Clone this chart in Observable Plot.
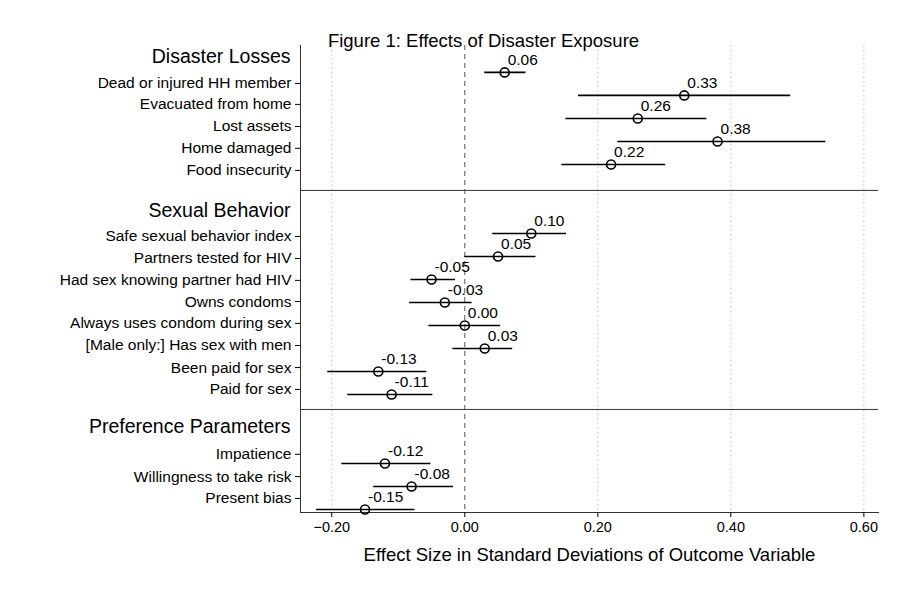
<!DOCTYPE html>
<html><head><meta charset="utf-8">
<script src="https://cdn.jsdelivr.net/npm/d3@7"></script>
<script src="https://cdn.jsdelivr.net/npm/@observablehq/plot@0.6"></script>
<style>body{margin:0;background:#fff;font-family:"Liberation Sans",Arial,sans-serif}</style>
</head><body><div id="chart"></div>
<script>
const labels = ["Dead or injured HH member","Evacuated from home","Lost assets","Home damaged","Food insecurity",
  "Safe sexual behavior index","Partners tested for HIV","Had sex knowing partner had HIV","Owns condoms",
  "Always uses condom during sex","[Male only:] Has sex with men","Been paid for sex","Paid for sex",
  "Impatience","Willingness to take risk","Present bias"]
const rows = [0,1,2,3,4, 7,8,9,10,11,12,13,14, 17,18,19]
const labelRows = [0.48,1.39,2.35,3.30,4.26, 7.13,8.09,9.04,9.96,10.91,11.87,12.83,13.78, 16.6,17.57,18.52]
const est = [0.06,0.33,0.26,0.38,0.22, 0.10,0.05,-0.05,-0.03,0.00,0.03,-0.13,-0.11, -0.12,-0.08,-0.15]
const lo = [0.030,0.171,0.152,0.230,0.146, 0.042,0.000,-0.081,-0.083,-0.054,-0.018,-0.206,-0.176, -0.185,-0.137,-0.223]
const hi = [0.092,0.490,0.364,0.543,0.302, 0.153,0.107,-0.014,0.011,0.054,0.072,-0.057,-0.048, -0.051,-0.017,-0.075]
const headers = ["Disaster Losses","Sexual Behavior","Preference Parameters"]
const headerRows = [-0.7,6.0,15.4]
const separators = [5.13,14.65]
const xTicks = [-0.2,0,0.2,0.4,0.6]

const data = labels.map((l,i)=>({label:l,row:rows[i],est:est[i],lo:lo[i],hi:hi[i]}))
const hdr = headers.map((h,i)=>({h,row:headerRows[i]}))

const chart = Plot.plot({
  width: 900, height: 600,
  marginLeft: 300, marginRight: 22, marginTop: 45, marginBottom: 88,
  style: {fontFamily: "Liberation Sans, Arial, sans-serif", fontSize: "15px", color: "#000"},
  x: {domain: [-0.247, 0.622], label: null},
  y: {domain: [-1.17, 19.13], reverse: true, label: null},
  marks: [
    Plot.ruleX([-0.2,0.2,0.4,0.6], {stroke: "#bbb", strokeDasharray: "1.5,3", strokeWidth: 1}),
    Plot.ruleX([0], {stroke: "#555", strokeDasharray: "5,4", strokeWidth: 1}),
    Plot.ruleY(separators, {stroke: "#333", strokeWidth: 1}),
    Plot.frame({anchor: "left", stroke: "#333"}),
    Plot.frame({anchor: "bottom", stroke: "#333"}),
    Plot.axisX({ticks: xTicks, tickFormat: d3.format(".2f"), tickSize: 5, fontSize: 14.5, label: null}),
    Plot.text(["Effect Size in Standard Deviations of Outcome Variable"], {frameAnchor: "bottom", dy: 48, fontSize: 18.5}),
    Plot.axisY({ticks: labelRows, tickFormat: (d)=>labels[labelRows.indexOf(d)], tickSize: 5, fontSize: 15.5, label: null}),
    Plot.text(hdr, {x: -0.247, y: "row", text: "h", textAnchor: "end", dx: -10, fontSize: 19.5}),
    Plot.ruleY(data, {y: "row", x1: "lo", x2: "hi", stroke: "#000", strokeWidth: 1.6}),
    Plot.dot(data, {x: "est", y: "row", r: 4.5, stroke: "#000", strokeWidth: 1.6, fill: "none"}),
    Plot.text(data, {x: "est", y: "row", text: (d)=>d.est.toFixed(2), textAnchor: "start", dx: 3, dy: -12, fontSize: 15.5}),
    Plot.text(["Figure 1: Effects of Disaster Exposure"], {frameAnchor: "top", dx: -106, dy: -12, fontSize: 18.5})
  ]
})
document.getElementById("chart").append(chart)
</script></body></html>
